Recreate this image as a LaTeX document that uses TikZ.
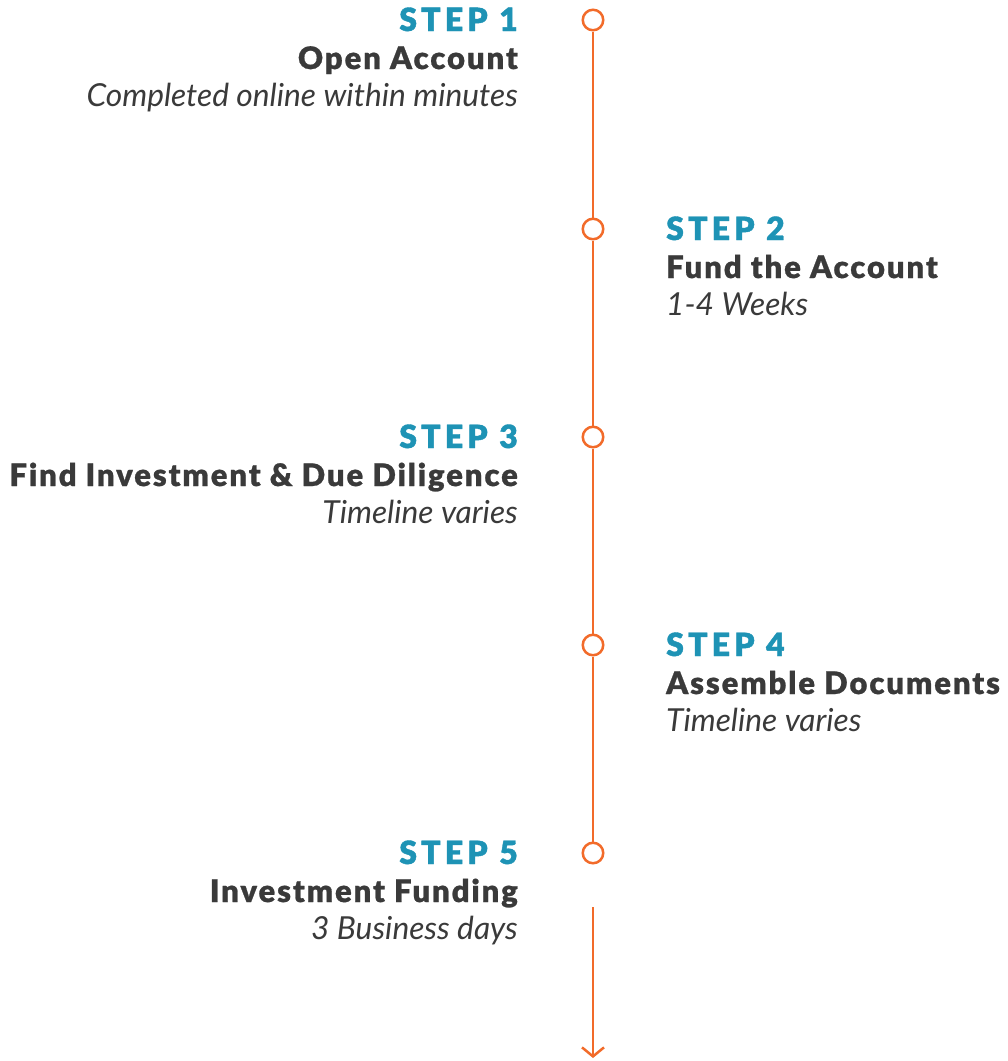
\documentclass[tikz,border=0pt]{standalone}
\usepackage{fontspec}
\setmainfont{Lato}
\newfontfamily\stepfont{Lato Black}[LetterSpace=13,FakeBold=1.2]
\newfontfamily\headfont{Lato Black}[LetterSpace=6.2,FakeBold=0.8]
\usetikzlibrary{arrows.meta}
\definecolor{tlorange}{HTML}{F26B2A}
\definecolor{tlteal}{HTML}{1E93B5}
\definecolor{tlgrey}{HTML}{3A3A3A}
\begin{document}
\begin{tikzpicture}[x=1pt,y=-1pt,
  spine/.style={draw=tlorange, line width=2.5pt},
  dot/.style={circle, draw=tlorange, line width=2.5pt, minimum size=20.5pt, inner sep=0pt, fill=white},
  steplabel/.style={font=\stepfont\fontsize{32}{32}\selectfont, text=tlteal, inner sep=0pt},
  steptitle/.style={font=\headfont\fontsize{31}{31}\selectfont, text=tlgrey, inner sep=0pt},
  stepnote/.style={font=\itshape\fontsize{31.7}{31.7}\selectfont, text=tlgrey, inner sep=0pt}]
\useasboundingbox (0,0) rectangle (1008,1061);

% timeline markers
\node[dot] (d1) at (593,20) {};
\node[dot] (d2) at (593,229) {};
\node[dot] (d3) at (593,437) {};
\node[dot] (d4) at (593,645) {};
\node[dot] (d5) at (593,853) {};

\draw[spine] (d1) -- (d2);
\draw[spine] (d2) -- (d3);
\draw[spine] (d3) -- (d4);
\draw[spine] (d4) -- (d5);

% closing arrow
\coordinate (a0) at (593,907);
\coordinate (a1) at (593,1058);
\draw[spine, -{Straight Barb[length=9pt,width=22pt]}] (a0) -- (a1);

% step 1 (left)
\node[steplabel, anchor=base east] (s1) at (518,31) {STEP 1};
\node[steptitle, anchor=base east] (t1) at (518,69) {Open Account};
\node[stepnote, anchor=base east] (n1) at (518,106) {Completed online within minutes};

% step 2 (right)
\node[steplabel, anchor=base west] (s2) at (666,240) {STEP 2};
\node[steptitle, anchor=base west] (t2) at (666,278) {Fund the Account};
\node[stepnote, anchor=base west] (n2) at (666,315) {1-4 Weeks};

% step 3 (left)
\node[steplabel, anchor=base east] (s3) at (518,448) {STEP 3};
\node[steptitle, anchor=base east] (t3) at (518,486) {Find Investment \& Due Diligence};
\node[stepnote, anchor=base east] (n3) at (518,523) {Timeline varies};

% step 4 (right)
\node[steplabel, anchor=base west] (s4) at (666,656) {STEP 4};
\node[steptitle, anchor=base west] (t4) at (666,694) {Assemble Documents};
\node[stepnote, anchor=base west] (n4) at (666,731) {Timeline varies};

% step 5 (left)
\node[steplabel, anchor=base east] (s5) at (518,864) {STEP 5};
\node[steptitle, anchor=base east] (t5) at (518,902) {Investment Funding};
\node[stepnote, anchor=base east] (n5) at (518,939) {3 Business days};
\end{tikzpicture}
\end{document}
